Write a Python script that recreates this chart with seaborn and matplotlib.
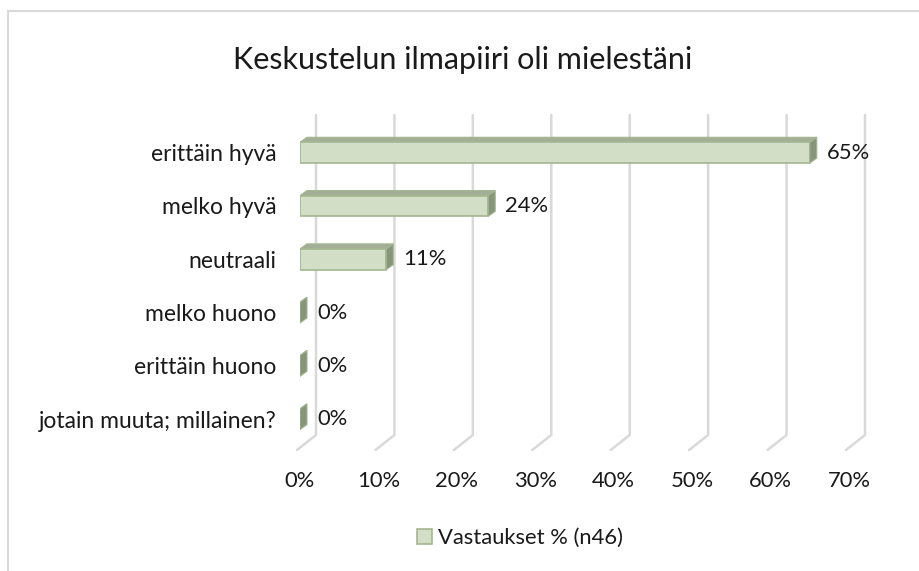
import numpy as np
import pandas as pd
import seaborn as sns
import matplotlib.pyplot as plt
from matplotlib.patches import Polygon, Rectangle
from matplotlib.lines import Line2D
from matplotlib.transforms import offset_copy

categories = ['erittäin hyvä', 'melko hyvä', 'neutraali', 'melko huono',
              'erittäin huono', 'jotain muuta; millainen?']
values = [65, 24, 11, 0, 0, 0]
ticks = [0, 10, 20, 30, 40, 50, 60, 70]
tick_labels = ['0%', '10%', '20%', '30%', '40%', '50%', '60%', '70%']
series_name = 'Vastaukset % (n46)'
title = 'Keskustelun ilmapiiri oli mielestäni'

df = pd.DataFrame({'vastaus': categories, 'osuus': values})

sns.set_theme(style='white')
plt.rcParams['font.family'] = ['Lato', 'DejaVu Sans']

W, H = 920, 571
fig = plt.figure(figsize=(W / 100, H / 100), dpi=100)
ax = fig.add_axes([300 / W, 121 / H, 549 / W, 335 / H])

front = '#d2dec6'
edge = '#a3b690'
top_c = '#a2ae96'
side_c = '#87967a'
grid_c = '#d9d9d9'
txt = '#1a1a1a'
fs = 15.8

sns.barplot(data=df, x='osuus', y='vastaus', orient='h', color=front,
            saturation=1, width=0.39, edgecolor=edge, linewidth=1.2,
            ax=ax, zorder=3)

ax.set_xlim(0, 70)
ax.set_ylim(5.578, -0.707)

# pixel -> data scale
(x0p, y0p), (x1p, y1p) = ax.transData.transform([(0, 0), (10, 1)])
px_x = (x1p - x0p) / 10.0
px_y = (y1p - y0p) / 1.0  # negative (inverted axis)

# 3d floor / back wall gridlines
back_dx, back_dy = 16, 15
front_dx = -3
y_top = ax.get_ylim()[1]
y_bot = ax.get_ylim()[0]
y_back = y_bot + back_dy / px_y
for t in ticks:
    xb = t + back_dx / px_x
    xf = t + front_dx / px_x
    ax.add_line(Line2D([xb, xb, xf], [y_top, y_back, y_bot], color=grid_c,
                       lw=1.8, zorder=1, clip_on=False, solid_joinstyle='miter'))

# 3d faces of bars
dx, dy = 7, 5
ddx = dx / px_x
ddy = dy / px_y
for p in ax.patches:
    bx, by = p.get_x(), p.get_y()
    bw, bh = p.get_width(), p.get_height()
    top = Polygon([(bx, by), (bx + bw, by), (bx + bw + ddx, by + ddy),
                   (bx + ddx, by + ddy)], closed=True, facecolor=top_c,
                  edgecolor=edge, lw=0.8, zorder=2.9)
    side = Polygon([(bx + bw, by), (bx + bw + ddx, by + ddy),
                    (bx + bw + ddx, by + bh + ddy), (bx + bw, by + bh)],
                   closed=True, facecolor=side_c, edgecolor=edge, lw=0.8,
                   zorder=3.1)
    ax.add_patch(top)
    ax.add_patch(side)

# value labels
lab_tr = offset_copy(ax.transData, fig=fig, x=17, y=0, units='dots')
for i, v in enumerate(values):
    ax.text(v, i, f'{v}%', transform=lab_tr, ha='left', va='center',
            fontsize=fs, color=txt, zorder=5)

ax.set_xticks(ticks)
ax.set_xticklabels(tick_labels)
ax.tick_params(axis='x', length=0, pad=15, labelsize=fs, labelcolor=txt)
ax.tick_params(axis='y', length=0, pad=17, labelsize=16.5, labelcolor=txt)
ax.set_xlabel('')
ax.set_ylabel('')
for s in ax.spines.values():
    s.set_visible(False)
ax.patch.set_alpha(0)

fig.text(463 / W, (H - 60) / H, title, ha='center', va='center',
         fontsize=22, color=txt)

handle = Rectangle((0, 0), 1, 1, facecolor=front, edgecolor=edge, lw=1.2)
fig.legend([handle], [series_name], loc='center', frameon=False,
           bbox_to_anchor=(520 / W, (H - 538) / H), fontsize=fs,
           handlelength=0.7, handleheight=0.7, handletextpad=0.3,
           labelcolor=txt)

fig.patches.append(Rectangle((8 / W, -0.05), 1.1, (H - 11) / H + 0.05,
                             transform=fig.transFigure, fill=False,
                             edgecolor='#d9d9d9', lw=1.5))

fig.savefig('out.png', dpi=100)
